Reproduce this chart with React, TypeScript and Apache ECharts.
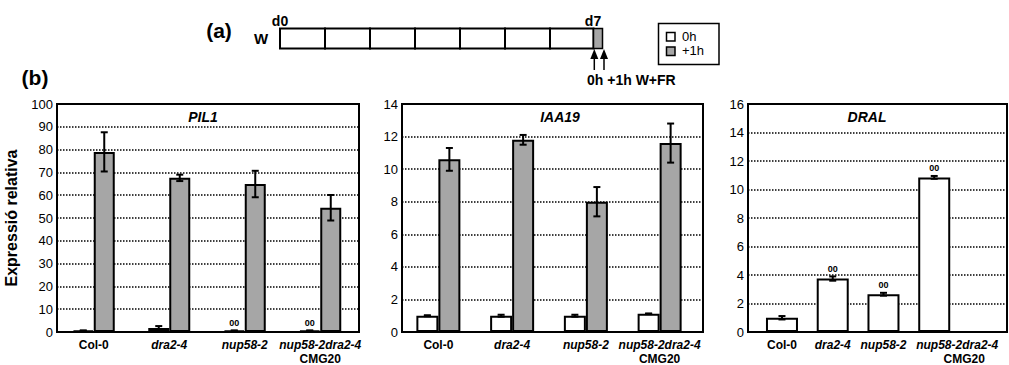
import React, { useEffect, useRef } from 'react';
import * as echarts from 'echarts';

// ---------- data ----------
const CATEGORIES = ['Col-0', 'dra2-4', 'nup58-2', 'nup58-2dra2-4'];
const CATEGORY_SUBLINE = ['', '', '', 'CMG20'];
const CATEGORY_ITALIC = [false, true, true, true];

const PIL1_0H = [0.6, 1.8, 0.6, 0.6];
const PIL1_0H_ERR = [0.1, 0.8, 0.1, 0.1];
const PIL1_1H = [79.0, 67.6, 64.9, 54.5];
const PIL1_1H_ERR = [8.6, 1.4, 5.8, 5.6];
const PIL1_SIG = ['', '', '00', '00'];

const IAA19_0H = [1.0, 1.0, 1.0, 1.12];
const IAA19_0H_ERR = [0.03, 0.06, 0.06, 0.02];
const IAA19_1H = [10.6, 11.8, 8.0, 11.6];
const IAA19_1H_ERR = [0.7, 0.3, 0.9, 1.2];

const DRAL_0H = [1.0, 3.75, 2.65, 10.85];
const DRAL_0H_ERR = [0.12, 0.15, 0.1, 0.1];
const DRAL_SIG = ['', '00', '00', '00'];

const Y_MAX = [100, 14, 16];
const Y_STEP = [10, 2, 2];
const PANEL_TITLES = ['PIL1', 'IAA19', 'DRAL'];
const Y_NAME = 'Expressió relativa';
const LEGEND_NAMES = ['0h', '+1h'];
const DAYS = 7;

// ---------- style / layout ----------
const FONT = '"Liberation Sans", Arial, sans-serif';
const GREY = '#a6a6a6';

const FRAMES = [
  { left: 57, top: 104, width: 302, height: 228 },
  { left: 402, top: 104, width: 301, height: 228 },
  { left: 748, top: 104, width: 259, height: 228 },
];
const BAR_AREAS = [
  { left: 56, top: 104, width: 302, height: 228 },
  { left: 401.5, top: 104, width: 295, height: 228 },
  { left: 756.6, top: 104, width: 203, height: 228 },
];
const BAR_W = [21, 22, 32];
const TITLE_X = [203, 560, 867];
const LAST_LABEL_SHIFT = [[0, 0], [0, 0], [46, 60]];

function errSeries(pi: number, vals: number[], errs: number[], offset: number) {
  return {
    type: 'custom',
    xAxisIndex: pi + 3,
    yAxisIndex: pi + 3,
    z: 5,
    silent: true,
    encode: { x: 0, y: 1 },
    data: vals.map((v, i) => [i, v, errs[i]]),
    renderItem: (params: any, api: any) => {
      const idx = api.value(0);
      const v = api.value(1);
      const e = api.value(2);
      const top = api.coord([idx, v + e]);
      const bot = api.coord([idx, Math.max(0, v - e)]);
      const x = top[0] + offset;
      const cw = 3.5;
      const st = { stroke: '#000', lineWidth: 2 };
      return {
        type: 'group',
        children: [
          { type: 'line', shape: { x1: x, y1: top[1], x2: x, y2: bot[1] }, style: st },
          { type: 'line', shape: { x1: x - cw, y1: top[1], x2: x + cw, y2: top[1] }, style: st },
          { type: 'line', shape: { x1: x - cw, y1: bot[1], x2: x + cw, y2: bot[1] }, style: st },
        ],
      };
    },
  };
}

function barSeries(pi: number, name: string, vals: number[], color: string, sig?: string[], dist = 4) {
  return {
    type: 'bar',
    name,
    xAxisIndex: pi + 3,
    yAxisIndex: pi + 3,
    data: vals,
    barWidth: BAR_W[pi],
    barGap: '0%',
    itemStyle: { color, borderColor: '#000', borderWidth: 2 },
    label: sig
      ? {
          show: true,
          position: 'top',
          distance: dist,
          formatter: (p: any) => sig[p.dataIndex],
          fontSize: 9,
          fontWeight: 'bold',
          fontFamily: FONT,
          color: '#000',
        }
      : { show: false },
  };
}

function makeLabelFormatter(pi: number) {
  return (_v: string, index: number) => {
    const tag = CATEGORY_ITALIC[index] ? 'i' : 'n';
    const sub = CATEGORY_SUBLINE[index];
    const shift = index === CATEGORIES.length - 1 && LAST_LABEL_SHIFT[pi][0] > 0;
    const t1 = shift ? tag + 'S' : tag;
    const t2 = shift ? 'nS2' : 'n';
    return sub ? `{${t1}|${CATEGORIES[index]}}\n{${t2}|${sub}}` : `{${t1}|${CATEGORIES[index]}}`;
  };
}

function buildOption() {
  const richBase = { fontWeight: 'bold', fontSize: 12, fontFamily: FONT, color: '#000', lineHeight: 14 };

  const xAxis: any[] = [];
  const yAxis: any[] = [];
  FRAMES.forEach((_, gi) => {
    xAxis.push({ type: 'value', gridIndex: gi, show: false, min: 0, max: 1 });
    yAxis.push({
      type: 'value',
      gridIndex: gi,
      min: 0,
      max: Y_MAX[gi],
      interval: Y_STEP[gi],
      name: gi === 0 ? Y_NAME : '',
      nameLocation: 'middle',
      nameGap: 38,
      nameTextStyle: { fontWeight: 'bold', fontSize: 16, fontFamily: FONT, color: '#000' },
      axisLine: { show: true, lineStyle: { color: '#000', width: 2 } },
      axisTick: { show: false },
      axisLabel: { color: '#000', fontSize: 13, fontFamily: FONT, margin: 4 },
      splitLine: { show: true, lineStyle: { color: '#000', type: [1.5, 1.5], width: 1.5 } },
    });
  });
  BAR_AREAS.forEach((_, pi) => {
    xAxis.push({
      type: 'category',
      gridIndex: pi + 3,
      data: CATEGORIES,
      axisTick: { show: false },
      axisLine: { show: false },
      axisLabel: {
        interval: 0,
        margin: 6,
        formatter: makeLabelFormatter(pi),
        rich: {
          n: { ...richBase },
          i: { ...richBase, fontStyle: 'italic' },
          iS: { ...richBase, fontStyle: 'italic', padding: [0, 0, 0, LAST_LABEL_SHIFT[pi][0]] },
          nS: { ...richBase, padding: [0, 0, 0, LAST_LABEL_SHIFT[pi][0]] },
          nS2: { ...richBase, padding: [0, 0, 0, LAST_LABEL_SHIFT[pi][1]] },
        },
      },
    });
    yAxis.push({ type: 'value', gridIndex: pi + 3, min: 0, max: Y_MAX[pi], interval: Y_STEP[pi], show: false });
  });

  const graphic: any[] = [];
  const txt = (text: string, x: number, y: number, font: string, align = 'center') => ({
    type: 'text',
    x,
    y,
    style: { text, font, fill: '#000', textAlign: align, textVerticalAlign: 'middle' },
  });
  PANEL_TITLES.forEach((t, i) => graphic.push(txt(t, TITLE_X[i], 117, `italic bold 14px ${FONT}`)));
  graphic.push(txt('(a)', 219, 30, `bold 21px ${FONT}`));
  graphic.push(txt('(b)', 35, 77, `bold 21px ${FONT}`));
  graphic.push(txt('W', 261, 38, `bold 15px ${FONT}`));
  graphic.push(txt('d0', 280, 21, `bold 14px ${FONT}`));
  graphic.push(txt('d7', 593, 21, `bold 14px ${FONT}`));
  const x0 = 280, segW = 45, y0 = 28.5, h = 20;
  for (let d = 0; d < DAYS; d++) {
    const w = d === DAYS - 1 ? 593.5 - (x0 + segW * d) : segW;
    graphic.push({
      type: 'rect',
      shape: { x: x0 + segW * d, y: y0, width: w, height: h },
      style: { fill: '#fff', stroke: '#000', lineWidth: 2 },
    });
  }
  graphic.push({
    type: 'rect',
    shape: { x: 593.5, y: y0, width: 9, height: h },
    style: { fill: GREY, stroke: '#000', lineWidth: 1.5 },
  });
  [594.3, 604].forEach((ax) => {
    graphic.push({ type: 'line', shape: { x1: ax, y1: 56, x2: ax, y2: 70 }, style: { stroke: '#000', lineWidth: 1.5 } });
    graphic.push({
      type: 'polygon',
      shape: { points: [[ax, 49], [ax - 4, 59], [ax + 4, 59]] },
      style: { fill: '#000' },
    });
  });
  graphic.push(txt('0h +1h W+FR', 587, 80, `bold 14px ${FONT}`, 'left'));
  graphic.push({
    type: 'rect',
    shape: { x: 658.5, y: 23.5, width: 60.5, height: 41 },
    style: { fill: '#fff', stroke: '#000', lineWidth: 1.5 },
  });
  [[32.5, '#fff'], [47, GREY]].forEach(([yy, c], i) => {
    graphic.push({
      type: 'rect',
      shape: { x: 666.5, y: yy as number, width: 8.5, height: 8.5 },
      style: { fill: c as string, stroke: '#000', lineWidth: 1.5 },
    });
    graphic.push(txt(LEGEND_NAMES[i], 682, (yy as number) + 3.5, `13px ${FONT}`, 'left'));
  });

  return {
    animation: false,
    backgroundColor: '#fff',
    grid: [
      ...FRAMES.map((g) => ({ ...g, show: true, borderColor: '#000', borderWidth: 2, backgroundColor: 'transparent' })),
      ...BAR_AREAS.map((g) => ({ ...g, show: false })),
    ],
    xAxis,
    yAxis,
    graphic,
    series: [
      barSeries(0, '0h', PIL1_0H, '#fff', PIL1_SIG, 3),
      barSeries(0, '+1h', PIL1_1H, GREY),
      errSeries(0, PIL1_0H, PIL1_0H_ERR, -BAR_W[0] / 2),
      errSeries(0, PIL1_1H, PIL1_1H_ERR, BAR_W[0] / 2),
      barSeries(1, '0h', IAA19_0H, '#fff'),
      barSeries(1, '+1h', IAA19_1H, GREY),
      errSeries(1, IAA19_0H, IAA19_0H_ERR, -BAR_W[1] / 2),
      errSeries(1, IAA19_1H, IAA19_1H_ERR, BAR_W[1] / 2),
      barSeries(2, '0h', DRAL_0H, '#fff', DRAL_SIG, 5),
      errSeries(2, DRAL_0H, DRAL_0H_ERR, 0),
    ],
  };
}

export default function App() {
  const ref = useRef<HTMLDivElement>(null);
  useEffect(() => {
    const chart = echarts.init(ref.current!, null, { renderer: 'svg' });
    chart.setOption(buildOption() as any);
    return () => chart.dispose();
  }, []);
  return <div ref={ref} style={{ position: 'absolute', left: 0, top: 0, width: 1009, height: 365 }} />;
}
